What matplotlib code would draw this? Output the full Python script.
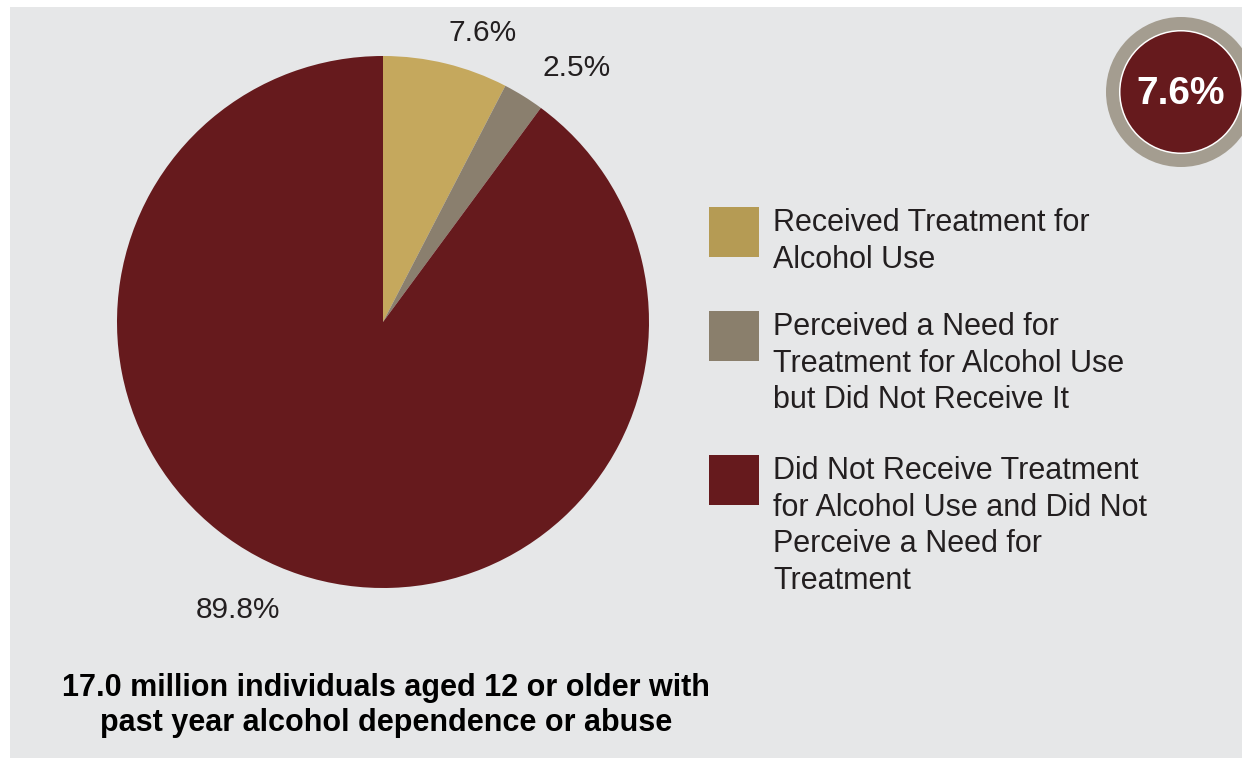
import numpy as np
import matplotlib
matplotlib.use('Agg')
import matplotlib.pyplot as plt
from matplotlib import font_manager
from matplotlib.patches import Rectangle, Circle


def pick_font(names):
    for name in names:
        try:
            font_manager.findfont(name, fallback_to_default=False)
            return name
        except ValueError:
            pass
    return 'DejaVu Sans'


REG = pick_font(['Liberation Sans', 'Arial', 'DejaVu Sans'])
NARROW = pick_font(['Liberation Sans Narrow', 'DejaVu Sans Condensed', 'Liberation Sans'])

# data
categories = ['Received Treatment for\nAlcohol Use',
              'Perceived a Need for\nTreatment for Alcohol Use\nbut Did Not Receive It',
              'Did Not Receive Treatment\nfor Alcohol Use and Did Not\nPerceive a Need for\nTreatment']
values = [7.6, 2.5, 89.8]
pct_labels = ['7.6%', '2.5%', '89.8%']
badge_label = '7.6%'
title = ('17.0 million individuals aged 12 or older with\n'
         'past year alcohol dependence or abuse')

pie_colors = ['#c5a85d', '#8a7f6e', '#661a1d']
legend_colors = ['#b59b54', '#8a7f6c', '#661a1d']
bg_color = '#e6e7e8'
text_color = '#231f20'

W, H = 1242, 758
fig = plt.figure(figsize=(W / 100, H / 100), dpi=100, facecolor='white')

# background layer in pixel coordinates
bg = fig.add_axes([0, 0, 1, 1])
bg.set_xlim(0, W)
bg.set_ylim(H, 0)
bg.axis('off')
bg.add_patch(Rectangle((10, 7), W - 10, H - 7, color=bg_color, lw=0))

# badge in the top right corner
bx, by = 1181, 92
bg.add_patch(Circle((bx, by), 75, color='#a49d90', lw=0))
bg.add_patch(Circle((bx, by), 62, color='white', lw=0))
bg.add_patch(Circle((bx, by), 60.5, color='#661a1d', lw=0))
bg.text(bx, by + 2, badge_label, ha='center', va='center', color='white',
        fontsize=28, fontweight='bold', family=NARROW)

# pie
r, cx, cy = 266, 383, 322
ax = fig.add_axes([(cx - r) / W, (H - cy - r) / H, 2 * r / W, 2 * r / H])
wedges, _ = ax.pie(values, colors=pie_colors, startangle=90,
                   counterclock=False, radius=1,
                   wedgeprops=dict(linewidth=0))
ax.set_xlim(-1, 1)
ax.set_ylim(-1, 1)
ax.set_aspect('equal')

for w, lab, dang, dist in zip(wedges, pct_labels, [-5.4, -5.5, -8.5], [1.15, 1.2, 1.21]):
    ang = np.deg2rad((w.theta1 + w.theta2) / 2 + dang)
    ax.text(dist * np.cos(ang), dist * np.sin(ang), lab, ha='center',
            va='center', fontsize=21.5, color=text_color, family=REG)

# legend, drawn by hand
sw_x, txt_x = 709, 773
tops = [207, 311, 455]
for top, col, lab in zip(tops, legend_colors, categories):
    bg.add_patch(Rectangle((sw_x, top), 50, 50, color=col, lw=0))
    bg.text(txt_x, top + 1, lab, ha='left', va='top', fontsize=22,
            color=text_color, family=REG, linespacing=1.29)

# caption under the pie
bg.text(386, 673, title, ha='center', va='top', fontsize=22,
        fontweight='bold', color='black', family=NARROW, linespacing=1.22)

fig.savefig('out.png', dpi=100, facecolor=fig.get_facecolor())
